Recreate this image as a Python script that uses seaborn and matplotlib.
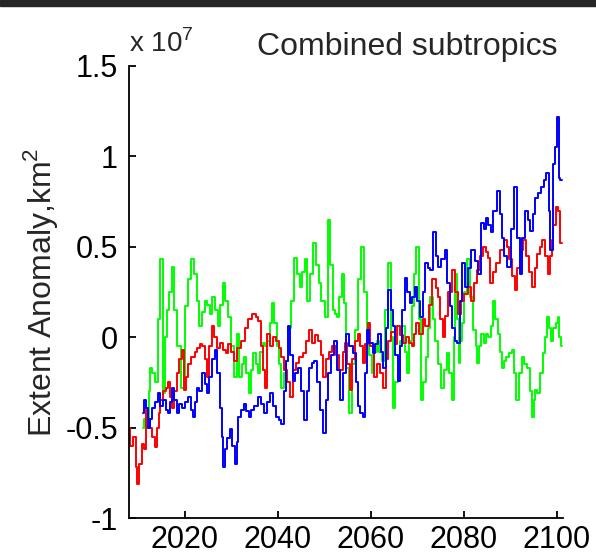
import matplotlib
matplotlib.use("Agg")
import matplotlib.pyplot as plt
import numpy as np
import pandas as pd
import seaborn as sns

# extent anomaly, units of 1e7 km^2
red_year = [2008.0, 2008.6, 2009.2, 2009.6, 2010.0, 2010.5, 2011.0, 2011.4, 2011.7, 2012.3,
            2012.8, 2013.3, 2013.8, 2014.2, 2014.5, 2015.0, 2015.6, 2016.1, 2016.6, 2017.0,
            2017.5, 2018.0, 2018.5, 2019.0, 2019.6, 2020.0, 2020.5, 2021.0, 2021.8, 2022.4,
            2023.0, 2023.5, 2024.0, 2024.5, 2025.0, 2025.5, 2026.0, 2026.6, 2027.2, 2028.0,
            2028.5, 2029.0, 2029.6, 2030.2, 2031.0, 2031.6, 2032.5, 2033.2, 2034.0, 2035.0,
            2035.5, 2036.0, 2036.6, 2037.0, 2037.5, 2038.0, 2038.6, 2039.2, 2040.0, 2040.5,
            2041.0, 2041.6, 2042.2, 2043.0, 2043.5, 2044.2, 2045.0, 2045.6, 2046.3, 2047.0,
            2047.6, 2048.3, 2049.0, 2049.6, 2050.0, 2050.6, 2051.3, 2052.0, 2052.8, 2053.6,
            2054.2, 2054.7, 2055.2, 2055.7, 2056.3, 2057.0, 2057.5, 2058.0, 2058.5, 2059.0,
            2059.6, 2060.2, 2061.0, 2061.6, 2062.3, 2063.0, 2063.5, 2064.0, 2064.8, 2065.4,
            2066.0, 2066.7, 2067.3, 2068.0, 2068.5, 2069.0, 2069.5, 2070.0, 2070.8, 2071.4,
            2072.0, 2072.8, 2073.6, 2074.2, 2074.7, 2075.2, 2075.7, 2076.3, 2077.0, 2077.7,
            2078.3, 2079.0, 2079.6, 2080.5, 2081.2, 2082.0, 2082.5, 2083.0, 2083.7, 2084.3,
            2085.0, 2085.4, 2086.0, 2086.6, 2087.4, 2088.2, 2089.0, 2089.5, 2090.0, 2090.6,
            2091.2, 2091.8, 2092.4, 2093.0, 2093.6, 2094.2, 2094.9, 2095.5, 2096.0, 2096.5,
            2097.0, 2097.7, 2098.3, 2098.7, 2099.0, 2099.5, 2100.0, 2100.5, 2101.0]
red_val = [-0.50, -0.60, -0.55, -0.72, -0.81, -0.70, -0.59, -0.62, -0.39, -0.45,
           -0.50, -0.55, -0.61, -0.50, -0.42, -0.35, -0.30, -0.28, -0.25, -0.33,
           -0.39, -0.30, -0.20, -0.12, -0.07, -0.29, -0.22, -0.15, -0.11, -0.08,
           -0.06, -0.04, -0.05, -0.12, -0.22, -0.05, 0.06, 0.00, -0.06, -0.03,
           -0.07, -0.09, -0.04, -0.08, -0.13, -0.06, -0.02, 0.05, 0.10, 0.13,
           0.11, 0.09, -0.05, -0.18, -0.28, 0.02, -0.05, 0.00, -0.02, -0.06,
           -0.11, -0.18, -0.25, -0.33, -0.18, -0.14, -0.11, -0.09, -0.02, 0.04,
           -0.03, 0.01, -0.02, -0.10, -0.22, -0.12, -0.08, -0.05, -0.10, -0.18,
           -0.08, -0.03, -0.15, -0.29, -0.12, -0.02, 0.02, -0.05, -0.14, -0.04,
           0.08, -0.05, -0.22, -0.15, -0.20, -0.28, -0.12, -0.02, 0.03, -0.04,
           0.06, 0.01, -0.03, 0.00, -0.03, -0.05, 0.02, 0.08, 0.02, 0.10,
           0.06, 0.18, 0.32, 0.27, 0.22, 0.10, 0.00, 0.12, 0.25, 0.37,
           0.25, 0.13, 0.20, 0.24, 0.28, 0.20, 0.30, 0.37, 0.45, 0.50,
           0.47, 0.44, 0.30, 0.36, 0.41, 0.48, 0.54, 0.50, 0.43, 0.34,
           0.26, 0.38, 0.48, 0.54, 0.45, 0.36, 0.28, 0.38, 0.46, 0.50,
           0.54, 0.45, 0.35, 0.45, 0.54, 0.62, 0.72, 0.70, 0.52]

blue_year = [2011.0, 2011.4, 2011.7, 2012.3, 2012.8, 2013.2, 2013.8, 2014.5, 2015.0, 2015.6,
             2016.1, 2016.6, 2017.0, 2017.5, 2018.0, 2018.5, 2019.0, 2019.6, 2020.3, 2021.0,
             2021.5, 2022.0, 2022.4, 2022.8, 2023.4, 2024.0, 2024.5, 2025.0, 2025.6, 2026.2,
             2026.7, 2027.2, 2027.8, 2028.1, 2028.4, 2028.9, 2029.4, 2030.0, 2030.5, 2031.0,
             2031.3, 2031.7, 2032.3, 2033.0, 2033.5, 2034.0, 2034.6, 2035.3, 2036.0, 2036.7,
             2037.5, 2038.0, 2038.5, 2039.2, 2040.0, 2040.5, 2041.0, 2041.5, 2042.0, 2042.4,
             2043.0, 2043.5, 2044.0, 2044.6, 2045.3, 2046.0, 2046.5, 2047.0, 2047.5, 2048.0,
             2048.7, 2049.3, 2050.0, 2050.5, 2051.0, 2051.7, 2052.5, 2053.0, 2053.6, 2054.3,
             2055.0, 2055.7, 2056.4, 2057.0, 2057.5, 2058.0, 2058.6, 2059.0, 2059.4, 2060.0,
             2060.7, 2061.2, 2061.8, 2062.4, 2063.0, 2063.5, 2064.0, 2064.5, 2065.0, 2065.5,
             2066.0, 2066.5, 2067.0, 2067.6, 2068.1, 2068.6, 2069.2, 2069.7, 2070.3, 2070.8,
             2071.4, 2072.0, 2072.5, 2073.0, 2073.6, 2074.2, 2074.7, 2075.5, 2076.2, 2076.7,
             2077.2, 2077.8, 2078.3, 2078.8, 2079.3, 2079.8, 2080.5, 2081.2, 2082.0, 2082.6,
             2083.3, 2084.0, 2084.5, 2085.0, 2085.5, 2086.0, 2086.7, 2087.4, 2088.0, 2088.4,
             2089.0, 2089.7, 2090.4, 2091.2, 2091.8, 2092.3, 2092.8, 2093.4, 2094.0, 2094.5,
             2095.0, 2095.5, 2096.2, 2097.0, 2097.5, 2098.0, 2098.4, 2098.8, 2099.4, 2099.8,
             2100.3, 2100.5, 2101.0]
blue_val = [-0.42, -0.35, -0.39, -0.50, -0.45, -0.39, -0.36, -0.31, -0.38, -0.35,
            -0.40, -0.42, -0.36, -0.28, -0.35, -0.42, -0.37, -0.39, -0.36, -0.33,
            -0.40, -0.44, -0.36, -0.28, -0.30, -0.20, -0.26, -0.31, -0.22, -0.12,
            -0.07, -0.20, -0.39, -0.55, -0.72, -0.62, -0.56, -0.51, -0.60, -0.70,
            -0.58, -0.44, -0.40, -0.37, -0.41, -0.44, -0.40, -0.38, -0.33, -0.37,
            -0.42, -0.36, -0.31, -0.38, -0.44, -0.46, -0.48, -0.30, -0.13, 0.06,
            -0.10, -0.24, -0.20, -0.17, -0.30, -0.46, -0.30, -0.17, -0.14, -0.13,
            -0.25, -0.40, -0.53, -0.35, -0.20, -0.10, -0.02, -0.18, -0.35, -0.20,
            0.02, -0.05, -0.09, -0.25, -0.38, -0.42, -0.44, -0.20, 0.04, -0.03,
            -0.09, -0.04, 0.02, -0.08, -0.17, 0.05, 0.26, 0.15, 0.06, -0.10,
            -0.24, -0.05, 0.15, 0.33, 0.25, 0.19, 0.22, 0.28, 0.20, 0.11,
            0.25, 0.41, 0.38, 0.37, 0.58, 0.45, 0.39, 0.43, 0.48, 0.30,
            0.17, 0.05, -0.02, -0.03, 0.20, 0.41, 0.28, 0.38, 0.48, 0.42,
            0.35, 0.63, 0.60, 0.66, 0.62, 0.58, 0.70, 0.81, 0.68, 0.55,
            0.45, 0.39, 0.60, 0.83, 0.55, 0.35, 0.55, 0.70, 0.65, 0.59,
            0.68, 0.77, 0.80, 0.83, 0.87, 0.91, 0.70, 0.48, 0.96, 1.05,
            1.22, 0.88, 0.87]

green_year = [2011.0, 2011.5, 2012.0, 2012.4, 2012.7, 2013.3, 2014.0, 2014.5, 2015.0, 2015.5,
              2016.0, 2016.3, 2016.9, 2017.5, 2018.0, 2018.8, 2019.6, 2020.3, 2021.0, 2021.8,
              2022.3, 2022.8, 2023.5, 2024.0, 2024.6, 2025.1, 2025.6, 2026.3, 2026.8, 2027.4,
              2027.9, 2028.4, 2029.0, 2029.5, 2030.2, 2031.0, 2031.5, 2032.0, 2032.5, 2033.0,
              2033.5, 2034.0, 2034.5, 2035.0, 2035.5, 2036.0, 2036.5, 2037.0, 2037.5, 2038.0,
              2038.5, 2039.0, 2039.5, 2040.0, 2040.5, 2041.0, 2041.5, 2042.0, 2042.5, 2043.0,
              2043.9, 2044.5, 2045.0, 2045.5, 2046.0, 2046.7, 2047.3, 2048.0, 2048.5, 2049.0,
              2049.7, 2050.4, 2051.0, 2051.5, 2052.0, 2052.5, 2053.0, 2053.5, 2054.0, 2054.5,
              2055.0, 2055.7, 2056.2, 2056.8, 2057.5, 2058.3, 2058.8, 2059.4, 2060.0, 2060.5,
              2061.0, 2061.6, 2062.1, 2062.6, 2063.3, 2064.0, 2064.5, 2065.0, 2065.5, 2066.0,
              2066.5, 2067.0, 2067.5, 2068.0, 2068.5, 2069.0, 2069.5, 2070.0, 2070.5, 2071.0,
              2071.5, 2072.0, 2072.5, 2073.0, 2073.5, 2074.0, 2074.7, 2075.5, 2076.0, 2076.6,
              2077.2, 2077.7, 2078.0, 2078.3, 2078.7, 2079.0, 2079.4, 2079.8, 2080.4, 2081.0,
              2081.6, 2082.3, 2082.7, 2083.0, 2083.5, 2084.0, 2084.5, 2085.0, 2085.5, 2086.0,
              2086.5, 2087.0, 2087.6, 2088.0, 2088.4, 2088.9, 2089.4, 2090.0, 2090.5, 2091.0,
              2091.6, 2092.1, 2092.7, 2093.3, 2093.8, 2094.4, 2094.9, 2095.2, 2095.5, 2096.0,
              2096.6, 2097.2, 2097.6, 2098.0, 2098.5, 2099.0, 2099.5, 2100.0, 2100.3, 2100.7,
              2101.0]
green_val = [-0.50, -0.45, -0.50, -0.30, -0.17, -0.20, -0.25, 0.10, 0.43, -0.31,
             0.00, 0.15, 0.25, 0.39, 0.15, -0.05, -0.28, 0.17, 0.32, 0.43,
             0.35, 0.20, 0.06, 0.14, 0.20, 0.18, 0.13, 0.22, 0.15, 0.06,
             0.18, 0.30, 0.20, 0.11, -0.05, -0.22, 0.02, -0.22, -0.15, -0.11,
             -0.20, -0.31, -0.18, -0.09, -0.15, -0.20, -0.08, -0.03, -0.05, -0.02,
             0.08, 0.19, 0.08, -0.05, -0.15, -0.28, -0.20, -0.13, 0.05, 0.20,
             0.44, 0.35, 0.28, 0.36, 0.43, 0.20, 0.35, 0.52, 0.40, 0.30,
             0.20, 0.11, 0.65, 0.40, 0.15, 0.13, 0.11, 0.22, 0.35, 0.19,
             -0.17, -0.42, -0.15, 0.04, 0.32, 0.50, 0.25, 0.02, -0.10, -0.20,
             -0.08, -0.02, -0.08, -0.13, 0.15, 0.41, 0.00, -0.39, -0.25, -0.11,
             -0.02, 0.06, -0.08, -0.20, -0.02, 0.17, 0.35, 0.50, 0.10, -0.35,
             -0.25, -0.11, 0.05, 0.22, 0.10, -0.02, -0.15, -0.28, -0.18, -0.09,
             -0.20, -0.35, 0.00, 0.35, 0.10, -0.14, -0.02, 0.08, 0.25, 0.43,
             0.22, 0.04, -0.05, -0.14, -0.05, 0.02, -0.03, 0.02, 0.00, 0.06,
             0.20, 0.10, 0.02, -0.08, -0.17, -0.13, -0.11, -0.09, -0.07, -0.20,
             -0.35, -0.20, -0.11, -0.15, -0.17, -0.30, -0.44, -0.35, -0.29, -0.31,
             -0.20, -0.09, 0.00, 0.11, 0.05, -0.02, 0.05, 0.08, 0.11, 0.00,
             -0.05]

df = pd.concat([
    pd.DataFrame({"year": green_year, "anom": green_val, "run": "green"}),
    pd.DataFrame({"year": red_year, "anom": red_val, "run": "red"}),
    pd.DataFrame({"year": blue_year, "anom": blue_val, "run": "blue"}),
])

sns.set_style("white")
plt.rcParams["font.family"] = ["Liberation Sans", "DejaVu Sans"]
plt.rcParams["mathtext.fontset"] = "custom"
plt.rcParams["mathtext.rm"] = "Liberation Sans"

fig = plt.figure(figsize=(5.96, 5.56), dpi=100)
ax = fig.add_axes([129/596, 1 - 518/556, 434/596, 452/556])
# dark strip along the top of the screenshot
fig.patches.append(plt.Rectangle((0, 1 - 6/556), 1, 6/556, transform=fig.transFigure,
                                 color="#262626", zorder=0))

sns.lineplot(data=df, x="year", y="anom", hue="run",
             palette={"green": "#00ff00", "red": "#ff0000", "blue": "#0000ff"},
             estimator=None, sort=False, legend=False, linewidth=1.4,
             drawstyle="steps-mid", ax=ax)

ax.set_xlim(2008, 2101.3)
ax.set_ylim(-1, 1.5)
ax.set_xticks([2020, 2040, 2060, 2080, 2100])
ax.set_yticks([-1, -0.5, 0, 0.5, 1, 1.5])
ax.set_yticklabels(["-1", "-0.5", "0", "0.5", "1", "1.5"])
ax.set_xlabel("")
ax.set_ylabel("Extent Anomaly,km$^2$", fontsize=23, labelpad=4)
ax.tick_params(direction="in", length=5, width=1.3,
               colors="black", left=True, bottom=True)
ax.tick_params(axis="x", labelsize=22, pad=5)
ax.tick_params(axis="y", labelsize=22, pad=8)
for s in ["top", "right"]:
    ax.spines[s].set_visible(False)
for s in ["left", "bottom"]:
    ax.spines[s].set_color("black")
    ax.spines[s].set_linewidth(1.3)

ax.text(0.0, (518 - 52) / 452, "x 10$^{7}$", transform=ax.transAxes, fontsize=20,
        ha="left", va="baseline")
ax.text(0.642, (518 - 55) / 452, "Combined subtropics", transform=ax.transAxes, fontsize=23,
        ha="center", va="baseline")

fig.savefig("out.png", dpi=100, facecolor="white")
